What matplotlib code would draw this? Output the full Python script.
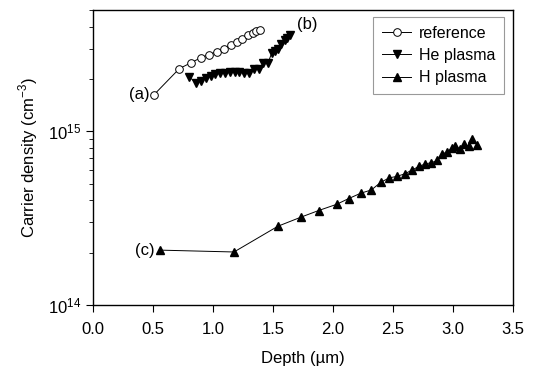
import matplotlib
matplotlib.use("Agg")
import matplotlib.pyplot as plt
from matplotlib.ticker import LogLocator, NullFormatter

plt.rcParams["font.family"] = ["Liberation Sans", "DejaVu Sans"]
plt.rcParams["mathtext.fontset"] = "custom"
plt.rcParams["mathtext.rm"] = "Liberation Sans"

# reference (a)
ref_depth = [0.51, 0.72, 0.82, 0.90, 0.97, 1.03, 1.09, 1.15, 1.20, 1.24, 1.29, 1.33, 1.36, 1.39]
ref_dens = [1.63e15, 2.30e15, 2.49e15, 2.66e15, 2.77e15, 2.88e15, 3.00e15, 3.16e15,
            3.29e15, 3.42e15, 3.61e15, 3.70e15, 3.76e15, 3.86e15]

# He plasma (b)
he_depth = [0.80, 0.86, 0.90, 0.94, 0.98, 1.02, 1.06, 1.10, 1.14, 1.18, 1.22, 1.26,
            1.30, 1.34, 1.38, 1.42, 1.46, 1.49, 1.52, 1.54, 1.57, 1.60, 1.62, 1.64]
he_dens = [2.07e15, 1.89e15, 1.96e15, 2.02e15, 2.08e15, 2.13e15, 2.16e15, 2.18e15,
           2.20e15, 2.21e15, 2.21e15, 2.18e15, 2.16e15, 2.30e15, 2.30e15, 2.46e15,
           2.49e15, 2.84e15, 2.92e15, 3.00e15, 3.20e15, 3.35e15, 3.47e15, 3.60e15]

# H plasma (c)
h_depth = [0.56, 1.175, 1.54, 1.73, 1.88, 2.03, 2.13, 2.23, 2.32, 2.40, 2.47, 2.53,
           2.60, 2.66, 2.72, 2.77, 2.82, 2.87, 2.91, 2.95, 2.99, 3.02, 3.06, 3.09,
           3.13, 3.16, 3.20]
h_dens = [2.07e14, 2.02e14, 2.84e14, 3.2e14, 3.5e14, 3.8e14, 4.1e14, 4.4e14, 4.6e14,
          5.1e14, 5.4e14, 5.5e14, 5.7e14, 6.0e14, 6.3e14, 6.5e14, 6.6e14, 6.8e14,
          7.4e14, 7.6e14, 8.0e14, 8.2e14, 7.9e14, 8.5e14, 8.2e14, 9.0e14, 8.4e14]

fig = plt.figure(figsize=(5.33, 3.71), dpi=100)
ax = fig.add_axes([93 / 533, 1 - 305 / 371, 420 / 533, 295 / 371])

ax.plot(ref_depth, ref_dens, "-o", color="black", mfc="white", mec="black",
        ms=5.5, lw=0.7, mew=0.7, label="reference")
ax.plot(he_depth, he_dens, "-v", color="black", ms=5.5, lw=0.7, label="He plasma")
ax.plot(h_depth, h_dens, "-^", color="black", ms=5.5, lw=0.7, label="H plasma")

ax.set_yscale("log")
ax.set_xlim(0, 3.5)
ax.set_ylim(1e14, 5e15)
ax.set_xticks([0, 0.5, 1.0, 1.5, 2.0, 2.5, 3.0, 3.5])
ax.set_xticklabels(["0.0", "0.5", "1.0", "1.5", "2.0", "2.5", "3.0", "3.5"])
ax.yaxis.set_major_locator(LogLocator(base=10))
ax.yaxis.set_minor_locator(LogLocator(base=10, subs=range(2, 10)))
ax.yaxis.set_minor_formatter(NullFormatter())
ax.tick_params(axis="both", which="major", direction="out", length=5, labelsize=12, width=0.8)
ax.tick_params(axis="x", which="major", pad=7)
ax.tick_params(axis="y", which="minor", direction="out", length=3, width=0.6)
for s in ax.spines.values():
    s.set_linewidth(1.0)

ax.set_xlabel("Depth (\u00b5m)", fontsize=12, labelpad=10)
ax.set_ylabel(r"Carrier density (cm$^{-3}$)", fontsize=12, labelpad=6)

ax.text(0.47, 1.63e15, "(a)", fontsize=12, ha="right", va="center")
ax.text(1.70, 4.1e15, "(b)", fontsize=12, ha="left", va="center")
ax.text(0.51, 2.07e14, "(c)", fontsize=12, ha="right", va="center")

leg = ax.legend(loc="upper right", bbox_to_anchor=(0.979, 0.976), borderaxespad=0,
                fontsize=11.5, fancybox=False, edgecolor="gray", handlelength=1.8,
                labelspacing=0.45, borderpad=0.55, handletextpad=0.5)
leg.get_frame().set_linewidth(0.8)

fig.savefig("out.png", dpi=100)
